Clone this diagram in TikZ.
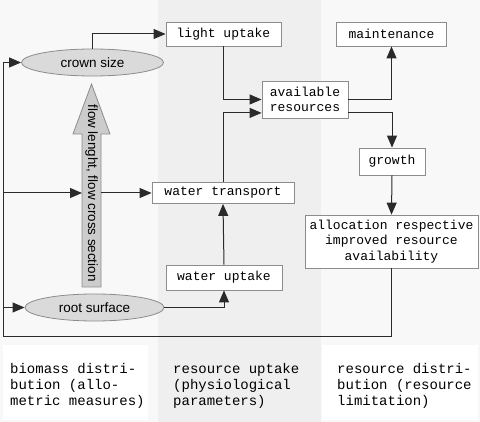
\documentclass[tikz,border=0pt]{standalone}
\usepackage{fontspec}
\setmonofont{Liberation Mono}
\newfontfamily\sansf{Liberation Sans}
\usetikzlibrary{arrows.meta,calc,shapes.geometric}
\definecolor{bgside}{HTML}{F8F8F8}
\definecolor{bgmid}{HTML}{EFEFEF}
\definecolor{boxline}{HTML}{8C8C8C}
\definecolor{lnc}{HTML}{2A2A2A}
\definecolor{ellfill}{HTML}{DADADA}
\definecolor{bigfill}{HTML}{CCCCCC}
\tikzset{
  box/.style={draw=boxline, fill=white, line width=0.8pt, inner sep=0pt,
    font=\ttfamily\fontsize{13}{15.5}\selectfont, align=center},
  ell/.style={draw=boxline, fill=ellfill, ellipse, line width=0.8pt, inner sep=0pt,
    font=\sansf\fontsize{13.5}{16}\selectfont},
  conn/.style={draw=lnc, line width=1pt},
  arr/.style={conn, -{Triangle[length=12pt,width=10pt]}},
  captxt/.style={font=\ttfamily\fontsize{14}{16}\selectfont, align=left, inner sep=0pt, anchor=north west}
}
\begin{document}
\begin{tikzpicture}[x=1pt,y=-1pt]
\useasboundingbox (0,0) rectangle (480,422);
% backgrounds
\fill[bgside] (0,0) rectangle (480,422);
\fill[bgmid] (158,0) rectangle (321,422);
\fill[white] (3,345) rectangle (148,420);
\fill[white] (322,345) rectangle (478,420);

% nodes
\node[box, minimum width=115pt, minimum height=24pt] (light) at (223.5,34) {light uptake};
\node[box, minimum width=110pt, minimum height=24pt] (maint) at (391.5,34) {maintenance};
\node[box, minimum width=86pt, minimum height=37pt] (avail) at (305,99.5) {available\\resources};
\node[box, minimum width=66pt, minimum height=27pt] (growth) at (392,161.5) {growth};
\node[box, minimum width=173pt, minimum height=53pt] (alloc) at (391.5,241.5) {allocation respective\\improved resource\\availability};
\node[box, minimum width=142pt, minimum height=21pt] (wtrans) at (223,193) {water transport};
\node[box, minimum width=116pt, minimum height=25pt] (wupt) at (224,277.5) {water uptake};
\node[ell, minimum width=142pt, minimum height=27pt] (crown) at (92.5,62.5) {crown size};
\node[ell, minimum width=139pt, minimum height=27pt] (root) at (94.5,307.5) {root surface};

% big arrow
\filldraw[fill=bigfill, draw=boxline, line width=0.8pt]
  (82,287) -- (82,134) -- (73,134) -- (91.5,84) -- (110,134) -- (101,134) -- (101,287) -- cycle;
\node[rotate=-90, font=\sansf\fontsize{13.4}{16}\selectfont, inner sep=0pt] (flow) at (91.5,193) {flow lenght, flow cross section};

% coordinates
\coordinate (cbl) at (3,337);
\coordinate (lmid) at (3,193);
\coordinate (bal) at (82,193);
\coordinate (bar) at (101,193);

% connectors
\draw[conn] (alloc.south) |- (cbl);
\draw[arr] (cbl) |- (crown.west);
\draw[arr] (lmid) -- (bal);
\draw[arr] (bar) -- (wtrans.west);
\draw[arr] (cbl) |- (root.west);
\draw[arr] (crown.north) |- (light.west);
\draw[arr] (light.south) |- (avail.west);
\draw[arr] (wtrans.north) |- ([yshift=-13.4pt]avail.west);
\draw[arr] (root.east) -| (wupt.south);
\draw[arr] (wupt.north) -- (wtrans.south);
\draw[arr] (avail.east) -| (maint.south);
\draw[arr] ([yshift=-13.4pt]avail.east) -| (growth.north);
\draw[arr] (growth.south) -- (alloc.north);

% captions
\node[captxt] (c1) at (10,363) {biomass distri-\\bution (allo-\\metric measures)};
\node[captxt] (c2) at (173,363) {resource uptake\\(physiological\\parameters)};
\node[captxt] (c3) at (337,363) {resource distri-\\bution (resource\\limitation)};
\end{tikzpicture}
\end{document}
